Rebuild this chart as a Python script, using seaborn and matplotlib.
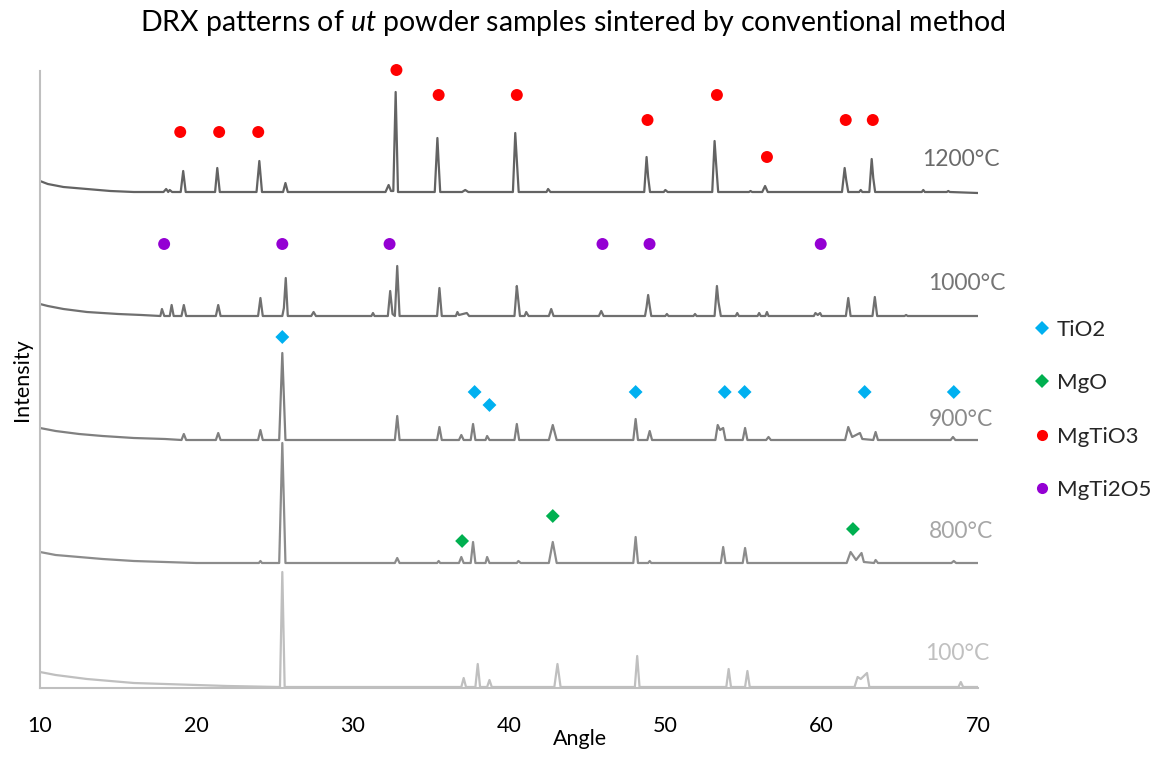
import matplotlib
matplotlib.use("Agg")
import matplotlib.pyplot as plt
from matplotlib.lines import Line2D
import seaborn as sns
import pandas as pd

# ---------------- data ----------------
samples = ["1200°C", "1000°C", "900°C", "800°C", "100°C"]

angle_1200 = [10.0, 10.5, 11.5, 13.0, 14.5, 16.0, 17.9, 18.07, 18.2, 18.3, 18.45,
              19.0, 19.16, 19.32, 21.2, 21.34, 21.5, 23.85, 24.03, 24.2, 25.55, 25.7, 25.85,
              32.1, 32.3, 32.45, 32.6, 32.75, 32.9, 35.25, 35.42, 35.5, 35.6,
              37.0, 37.2, 37.4, 40.25, 40.4, 40.5, 40.62, 42.4, 42.5, 42.65,
              48.65, 48.8, 48.9, 49.02, 49.9, 50.0, 50.15, 53.0, 53.15, 53.25, 53.38,
              55.35, 55.45, 55.55, 56.2, 56.38, 56.55, 61.3, 61.47, 61.57, 61.7,
              62.4, 62.5, 62.6, 63.05, 63.2, 63.3, 63.42, 66.4, 66.5, 66.6, 68.0, 68.1, 68.2, 70.0]
int_1200 = [11, 8, 5, 3, 1, 0, 0, 3, 0, 2, 0,
            0, 21, 0, 0, 24, 0, 0, 31, 0, 0, 9, 0,
            0, 7, 1, 1, 100, 0, 0, 54, 29, 0,
            0, 2, 0, 0, 59, 32, 0, 0, 3, 0,
            0, 35, 15, 0, 0, 2, 0, 0, 51, 28, 0,
            0, 1, 0, 0, 6, 0, 0, 24, 12, 0,
            0, 2, 0, 0, 33, 14, 0, 0, 2, 0, 0, 1, 0, -1]

angle_1000 = [10.0, 10.5, 11.5, 13.0, 15.0, 16.5, 17.7, 17.8, 17.95, 18.3, 18.42, 18.55,
              19.05, 19.2, 19.35, 21.25, 21.4, 21.55, 23.95, 24.1, 24.25,
              25.5, 25.6, 25.72, 25.85, 27.35, 27.5, 27.65, 31.2, 31.3, 31.4,
              32.25, 32.4, 32.55, 32.7, 32.85, 33.0, 35.4, 35.55, 35.7,
              36.6, 36.7, 36.8, 37.3, 37.45, 40.35, 40.5, 40.58, 40.7,
              41.0, 41.1, 41.25, 42.55, 42.7, 42.85, 45.75, 45.9, 46.05,
              48.7, 48.8, 48.9, 49.0, 49.1, 50.0, 50.1, 50.2, 51.8, 51.9, 52.0,
              53.15, 53.3, 53.4, 53.55, 54.5, 54.6, 54.7, 55.9, 56.0, 56.1, 56.4, 56.5, 56.6,
              59.5, 59.6, 59.75, 59.9, 60.0, 61.55, 61.7, 61.85, 63.25, 63.4, 63.55,
              65.3, 65.4, 65.5, 70.0]
int_1000 = [12, 10, 7, 4, 2, 1, 0, 7, 0, 0, 11, 0,
            0, 11, 0, 0, 11, 0, 0, 18, 0,
            0, 8, 38, 0, 0, 4, 0, 0, 3, 0,
            0, 25, 2, 0, 50, 0, 0, 28, 0,
            0, 4, 1, 3, 0, 0, 30, 18, 0,
            0, 4, 0, 0, 7, 0, 0, 5, 0,
            0, 9, 21, 10, 0, 0, 2, 0, 0, 2, 0,
            0, 30, 14, 0, 0, 3, 0, 0, 3, 0, 0, 4, 0,
            0, 3, 1, 3, 0, 0, 18, 0, 0, 19, 0,
            0, 1, 0, 0]

angle_900 = [10.0, 11.0, 12.5, 14.0, 16.0, 18.0, 19.05, 19.2, 19.35, 21.25, 21.4, 21.55,
             23.95, 24.1, 24.25, 25.3, 25.5, 25.7, 32.7, 32.85, 33.0, 35.4, 35.55, 35.7,
             36.8, 36.95, 37.1, 37.55, 37.7, 37.85, 38.5, 38.6, 38.75, 40.35, 40.5, 40.65,
             42.55, 42.8, 43.05, 47.95, 48.1, 48.25, 48.85, 49.0, 49.15,
             53.2, 53.35, 53.5, 53.7, 53.85, 54.95, 55.1, 55.25, 56.45, 56.6, 56.75,
             61.5, 61.7, 61.95, 62.45, 62.6, 63.3, 63.45, 63.6, 68.25, 68.4, 68.55, 70.0]
int_900 = [12, 9, 6, 4, 2, 1, 0, 6, 0, 0, 7, 0,
           0, 10, 0, 0, 87, 0, 0, 24, 0, 0, 13, 0,
           0, 5, 0, 0, 16, 0, 0, 4, 0, 0, 16, 0,
           0, 15, 0, 0, 21, 0, 0, 9, 0,
           0, 15, 10, 12, 0, 0, 12, 0, 0, 3, 0,
           0, 13, 3, 7, 1, 0, 8, 0, 0, 3, 0, 0]

angle_800 = [10.0, 11.0, 12.5, 14.0, 16.0, 18.0, 20.0, 24.0, 24.1, 24.2,
             25.3, 25.5, 25.7, 32.7, 32.85, 33.0, 35.4, 35.5, 35.6,
             36.8, 36.95, 37.1, 37.55, 37.7, 37.85, 38.5, 38.6, 38.75, 40.5, 40.6, 40.75,
             42.55, 42.8, 43.05, 47.95, 48.1, 48.25, 48.9, 49.0, 49.1,
             53.55, 53.7, 53.85, 54.95, 55.1, 55.25,
             61.6, 61.85, 62.2, 62.55, 62.7, 63.35, 63.45, 63.6, 68.3, 68.45, 68.6, 70.0]
int_800 = [11, 8, 6, 4, 2, 1, 0, 0, 2, 0,
           0, 120, 0, 0, 5, 0, 0, 2, 0,
           0, 6, 0, 0, 21, 0, 0, 6, 0, 0, 2, 0,
           0, 21, 0, 0, 26, 0, 0, 2, 0,
           0, 16, 0, 0, 15, 0,
           0, 11, 3, 10, 1, 0, 3, 0, 0, 2, 0, 0]

angle_100 = [10.0, 11.0, 12.0, 13.0, 14.5, 16.0, 18.0, 20.0, 22.0, 25.35, 25.5, 25.65,
             36.95, 37.1, 37.25, 37.85, 38.0, 38.15, 38.6, 38.75, 38.9,
             42.9, 43.1, 43.3, 48.05, 48.2, 48.35, 53.9, 54.05, 54.2, 55.1, 55.25, 55.4,
             62.1, 62.3, 62.5, 62.9, 63.05, 68.75, 68.9, 69.05, 70.0]
int_100 = [15, 12, 10, 8, 6, 4, 3, 2, 1, 0, 115, 0,
           0, 9, 0, 0, 23, 0, 0, 7, 0,
           0, 23, 0, 0, 31, 0, 0, 18, 0, 0, 16, 0,
           0, 10, 8, 14, 0, 0, 5, 0, 0]

# phase markers: angle and height on the intensity scale
tio2_angle = [25.5, 37.8, 38.75, 48.1, 53.8, 55.07, 62.75, 68.45]
tio2_height = [351, 296, 283, 296, 296, 296, 296, 296]
mgo_angle = [37.0, 42.8, 62.0]
mgo_height = [147, 172, 159]
mgtio3_angle = [18.97, 21.46, 23.96, 32.8, 35.5, 40.5, 48.86, 53.3, 56.5, 61.54, 63.27]
mgtio3_height = [556, 556, 556, 618, 593, 593, 568, 593, 531, 568, 568]
mgti2o5_angle = [17.94, 25.5, 32.36, 45.98, 48.99, 59.94]
mgti2o5_height = [444, 444, 444, 444, 444, 444]

x_ticks = [10, 20, 30, 40, 50, 60, 70]

# ---------------- layout / style ----------------
offsets = [496, 372, 248, 125, 1]
line_colors = ["#636363", "#707070", "#808080", "#8c8c8c", "#bfbfbf"]
label_colors = ["#6a6a6a", "#757575", "#8a8a8a", "#a6a6a6", "#c0c0c0"]
label_pos = [(68.9, 528), (69.3, 404), (68.9, 269), (68.9, 156), (68.7, 34)]

sns.set_theme(style="white")
FONT = "Lato"
plt.rcParams["font.family"] = [FONT, "DejaVu Sans"]
plt.rcParams["mathtext.fontset"] = "custom"
plt.rcParams["mathtext.rm"] = FONT
plt.rcParams["mathtext.it"] = FONT + ":italic"

W, H = 1163, 758
fig = plt.figure(figsize=(W / 100, H / 100), dpi=100)
ax = fig.add_axes([40 / W, (H - 688) / H, (978 - 40) / W, (688 - 71) / H])

traces = [(angle_1200, int_1200), (angle_1000, int_1000), (angle_900, int_900),
          (angle_800, int_800), (angle_100, int_100)]
for name, (xs, ys), off, col in zip(samples, traces, offsets, line_colors):
    df = pd.DataFrame({"Angle": xs, "Intensity": [v + off for v in ys]})
    sns.lineplot(data=df, x="Angle", y="Intensity", ax=ax, color=col, lw=1.6,
                 estimator=None, sort=False)

phases = [
    ("TiO2", tio2_angle, tio2_height, "D", "#00b0f0", 50),
    ("MgO", mgo_angle, mgo_height, "D", "#00b050", 50),
    ("MgTiO3", mgtio3_angle, mgtio3_height, "o", "#ff0000", 74),
    ("MgTi2O5", mgti2o5_angle, mgti2o5_height, "o", "#9400d3", 74),
]
for name, xs, ys, mk, col, s in phases:
    sns.scatterplot(x=xs, y=ys, ax=ax, marker=mk, color=col, s=s,
                    edgecolor="none", clip_on=False, zorder=5)

for name, (lx, ly), col in zip(samples, label_pos, label_colors):
    ax.text(lx, ly, name, color=col, fontsize=16.5, ha="center", va="center")

ax.set_xlim(10, 70)
ax.set_ylim(0, 617)
ax.set_xticks(x_ticks)
ax.set_xticklabels([str(t) for t in x_ticks])
ax.set_yticks([])
ax.tick_params(axis="x", length=0, pad=20, labelsize=15.5, labelcolor="black")
for side in ["top", "right"]:
    ax.spines[side].set_visible(False)
for side in ["left", "bottom"]:
    ax.spines[side].set_color("#bfbfbf")
    ax.spines[side].set_linewidth(1.5)

ax.set_xlabel("Angle", fontsize=15.5, color="black")
ax.set_ylabel("Intensity", fontsize=15.5, color="black")
ax.xaxis.set_label_coords(0.576, -0.066)
ax.yaxis.set_label_coords(-0.008, 0.5)

fig.text(573 / W, 1 - 31 / H,
         r"DRX patterns of $\mathit{ut}$ powder samples sintered by conventional method",
         ha="center", va="baseline", fontsize=20.5, color="black")

handles = [Line2D([], [], linestyle="none", marker=mk, color=col,
                  markersize=(7 if mk == "D" else 8), markeredgewidth=0)
           for name, xs, ys, mk, col, s in phases]
fig.legend(handles, [p[0] for p in phases], loc="upper left",
           bbox_to_anchor=(1024 / W, 1 - 311 / H), frameon=False,
           fontsize=16, labelspacing=1.5, handletextpad=0.27, handlelength=0.8,
           borderaxespad=0)

fig.savefig("out.png", dpi=100)
